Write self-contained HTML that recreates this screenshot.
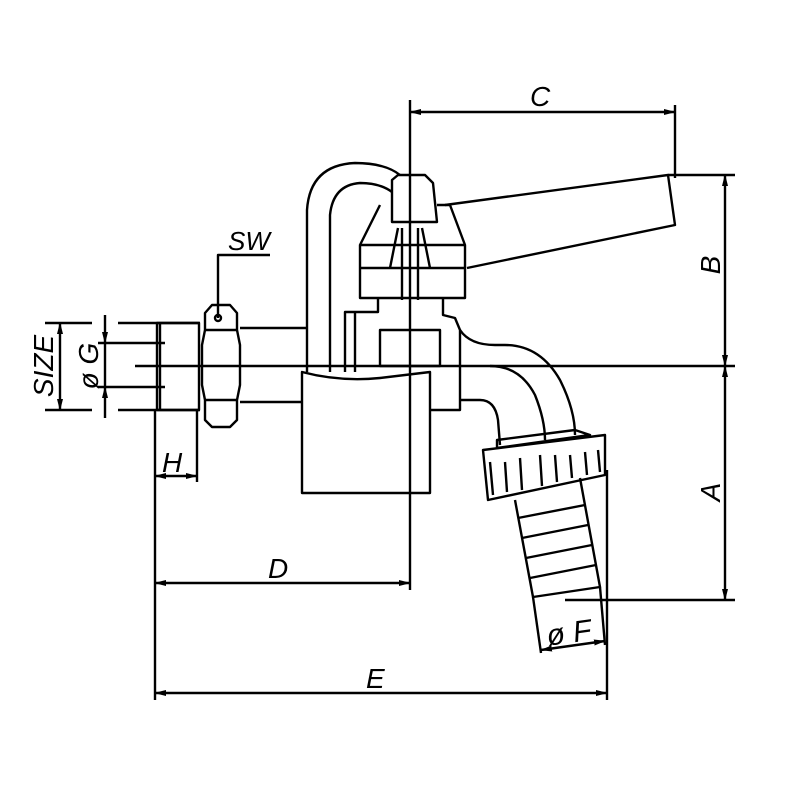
<!DOCTYPE html>
<html><head><style>body{margin:0;background:#fff}svg{display:block}</style></head><body>
<svg width="800" height="800" viewBox="0 0 800 800" xmlns="http://www.w3.org/2000/svg">
<defs><marker id="a" markerWidth="12" markerHeight="6" refX="11" refY="3" orient="auto-start-reverse" markerUnits="userSpaceOnUse"><path d="M0,0 L12,3 L0,6 Z" fill="#000"/></marker></defs>
<g fill="none" stroke="#000" stroke-width="2.4" stroke-linejoin="round">
<line x1="135" y1="366" x2="735" y2="366"/>
<line x1="410" y1="100" x2="410" y2="590"/>
<line x1="410" y1="112" x2="675" y2="112" marker-start="url(#a)" marker-end="url(#a)"/>
<line x1="675" y1="105" x2="675" y2="178"/>
<line x1="668" y1="175" x2="735" y2="175"/>
<line x1="725" y1="175" x2="725" y2="366" marker-start="url(#a)" marker-end="url(#a)"/>
<line x1="725" y1="366" x2="725" y2="600" marker-start="url(#a)" marker-end="url(#a)"/>
<line x1="565" y1="600" x2="735" y2="600"/>
<line x1="155" y1="410" x2="155" y2="700"/>
<line x1="197" y1="410" x2="197" y2="482"/>
<line x1="155" y1="476" x2="197" y2="476" marker-start="url(#a)" marker-end="url(#a)"/>
<line x1="155" y1="583" x2="410" y2="583" marker-start="url(#a)" marker-end="url(#a)"/>
<line x1="155" y1="693" x2="607" y2="693" marker-start="url(#a)" marker-end="url(#a)"/>
<line x1="607" y1="470" x2="607" y2="700"/>
<line x1="45" y1="323" x2="92" y2="323"/><line x1="45" y1="410" x2="92" y2="410"/>
<line x1="60" y1="323" x2="60" y2="410" marker-start="url(#a)" marker-end="url(#a)"/>
<line x1="105" y1="315" x2="105" y2="343" marker-end="url(#a)"/>
<line x1="105" y1="418" x2="105" y2="387" marker-end="url(#a)"/>
<line x1="105" y1="343" x2="105" y2="387"/>
<line x1="98" y1="343" x2="165" y2="343"/><line x1="98" y1="387" x2="165" y2="387"/>
<line x1="118" y1="323" x2="200" y2="323"/><line x1="118" y1="410" x2="200" y2="410"/>
<rect x="157" y="323" width="42" height="87"/>
<line x1="160" y1="323" x2="160" y2="410"/>
<path d="M205,313 L212,305 L230,305 L237,313 L237,330 L240,345 L240,385 L237,400 L237,420 L230,427 L212,427 L205,420 L205,400 L202,385 L202,345 L205,330 Z"/>
<line x1="205" y1="330" x2="237" y2="330"/><line x1="205" y1="400" x2="237" y2="400"/>
<circle cx="218" cy="318" r="3"/>
<polyline points="218,318 218,255 270,255"/>
<line x1="240" y1="328" x2="307" y2="328"/><line x1="240" y1="402" x2="302" y2="402"/>
<path d="M302,372 Q340,382 380,378 L430,372 L430,493 L302,493 Z"/>
<path d="M307,372 L307,210 Q310,165 355,163 Q385,163 400,175"/>
<path d="M330,372 L330,215 Q333,185 360,183 Q380,183 392,192"/>
<path d="M392,180 L398,175 L425,175 L433,183 L437,222 L392,222 Z"/>
<path d="M380,205 L360,245 L360,298 L465,298 L465,245 L450,205 L437,205"/>
<line x1="360" y1="245" x2="465" y2="245"/><line x1="360" y1="268" x2="465" y2="268"/>
<path d="M398,228 L390,268 M422,228 L430,268 M402,228 L402,300 M418,228 L418,300"/>
<path d="M445,205 L668,175 L675,225 L467,268"/>
<path d="M378,298 L378,312 L345,312 L345,372 M443,298 L443,315 L455,318 L460,330 L460,410 L430,410"/>
<rect x="380" y="330" width="60" height="36"/>
<line x1="355" y1="312" x2="355" y2="372"/>
<path d="M460,330 Q470,345 495,345 L505,345 Q540,345 560,380 Q575,410 575,435"/>
<path d="M460,400 L480,400 Q495,400 498,420 L500,445"/>
<path d="M490,366 Q520,366 535,395 Q545,420 545,440"/>
<path d="M497,440 L575,430 L590,435 L497,448 Z"/>
<path d="M483,450 L605,435 L605,475 L488,500 Z"/>
<path d="M490,462 L493,495 M505,462 L507,492 M520,458 L522,490 M540,455 L542,486 M555,455 L557,482 M570,455 L572,478 M585,452 L587,475 M598,450 L600,472"/>
<path d="M515,500 L533,597 L600,587 L580,478"/>
<path d="M518,518 L585,505 M522,538 L588,525 M526,558 L592,545 M530,578 L596,565"/>
<line x1="533" y1="597" x2="541" y2="653"/><line x1="600" y1="587" x2="605" y2="645"/>
<line x1="541" y1="650" x2="605" y2="641" marker-start="url(#a)" marker-end="url(#a)"/>
</g>
<g font-family="Liberation Sans, sans-serif" font-style="italic" font-size="28" fill="#000">
<text x="530" y="106">C</text>
<text x="228" y="250" font-size="26">SW</text>
<text x="268" y="578">D</text>
<text x="366" y="688">E</text>
<text x="162" y="472">H</text>
<text x="546" y="642" transform="rotate(-8 575 630)" font-size="30">ø F</text>
<text transform="translate(720,265) rotate(-90)" text-anchor="middle">B</text>
<text transform="translate(720,492) rotate(-90)" text-anchor="middle">A</text>
<text transform="translate(53,366) rotate(-90)" text-anchor="middle">SIZE</text>
<text transform="translate(98,366) rotate(-90)" text-anchor="middle">ø G</text>
</g>
</svg>
</body></html>
